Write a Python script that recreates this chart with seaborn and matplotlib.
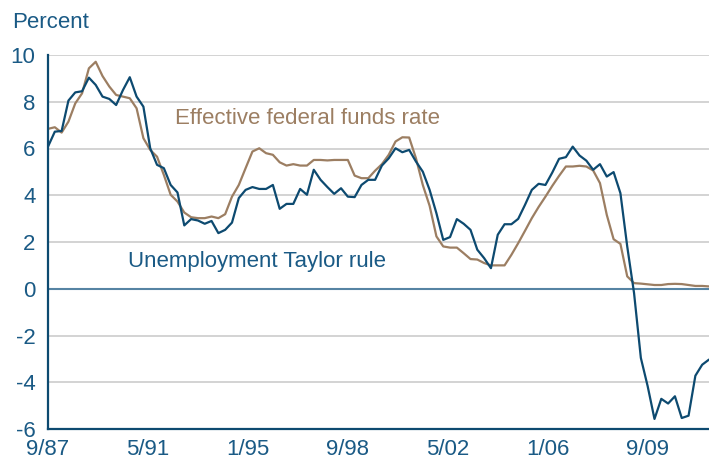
import numpy as np
import pandas as pd
import matplotlib
matplotlib.use("Agg")
import matplotlib.pyplot as plt
import seaborn as sns

# quarterly points starting 9/87 (x in months from 9/87)
taylor = [6.08, 6.72, 6.75, 8.05, 8.40, 8.45, 9.03, 8.72, 8.22, 8.12,
          7.86, 8.50, 9.05, 8.22, 7.79, 6.01, 5.30, 5.16, 4.44, 4.12,
          2.71, 2.98, 2.92, 2.78, 2.90, 2.38, 2.52, 2.83, 3.88, 4.23,
          4.35, 4.27, 4.27, 4.44, 3.42, 3.63, 3.63, 4.27, 4.02, 5.09,
          4.66, 4.35, 4.06, 4.30, 3.94, 3.92, 4.44, 4.66, 4.66, 5.27,
          5.58, 6.01, 5.84, 5.94, 5.44, 5.01, 4.23, 3.23, 2.09, 2.21,
          2.98, 2.78, 2.52, 1.67, 1.31, 0.88, 2.31, 2.76, 2.76, 2.99,
          3.59, 4.23, 4.49, 4.44, 4.97, 5.56, 5.63, 6.08, 5.70, 5.48,
          5.09, 5.33, 4.80, 4.99, 4.09, 1.81, -0.18, -2.96, -4.17, -5.57,
          -4.71, -4.91, -4.60, -5.53, -5.43, -3.72, -3.25, -3.03]
fedfunds = [6.84, 6.91, 6.68, 7.15, 7.93, 8.36, 9.43, 9.71, 9.10, 8.65,
            8.29, 8.22, 8.15, 7.72, 6.44, 5.94, 5.65, 4.87, 4.02, 3.73,
            3.26, 3.06, 3.02, 3.02, 3.09, 3.02, 3.19, 3.94, 4.44, 5.16,
            5.87, 6.01, 5.80, 5.73, 5.41, 5.27, 5.33, 5.27, 5.27, 5.51,
            5.51, 5.49, 5.51, 5.51, 5.51, 4.84, 4.73, 4.73, 5.05, 5.33,
            5.73, 6.30, 6.48, 6.47, 5.58, 4.44, 3.55, 2.24, 1.81, 1.76,
            1.76, 1.52, 1.27, 1.25, 1.10, 1.00, 1.00, 1.00, 1.45, 1.95,
            2.48, 3.02, 3.50, 3.94, 4.40, 4.83, 5.23, 5.23, 5.26, 5.23,
            5.06, 4.52, 3.16, 2.12, 1.92, 0.53, 0.24, 0.22, 0.19, 0.16,
            0.16, 0.20, 0.21, 0.20, 0.16, 0.12, 0.12, 0.10]
tick_labels = ["9/87", "5/91", "1/95", "9/98", "5/02", "1/06", "9/09"]

months = np.arange(len(taylor)) * 3
df = pd.DataFrame({"month": months, "taylor": taylor, "fedfunds": fedfunds})

sns.set_style("white")
plt.rcParams["font.family"] = ["Liberation Sans", "DejaVu Sans"]

blue = "#0d4a70"
txt_blue = "#1a5a85"
brown = "#9c7e62"
fs = 16

fig = plt.figure(figsize=(7.09, 4.62), dpi=100)
ax = fig.add_axes([48 / 709, 1 - 429 / 462, 1 - 48 / 709, (429 - 55) / 462])

for v in [10, 8, 6, 4, 2, -2, -4]:
    ax.axhline(v, color="#d0d0d0", lw=1.3, zorder=0)
ax.axhline(0, color="#5684a3", lw=1.5, zorder=1)

sns.lineplot(data=df, x="month", y="fedfunds", color=brown, lw=1.6, ax=ax)
sns.lineplot(data=df, x="month", y="taylor", color=blue, lw=1.6, ax=ax)

ax.set_xlim(0, 291)
ax.set_ylim(-6, 10)
ax.set_xlabel("")
ax.set_ylabel("")

ax.set_xticks(np.arange(len(tick_labels)) * 44)
ax.set_xticklabels(tick_labels)
ax.set_xticks(np.arange(22, 292, 44), minor=True)
ax.set_yticks(range(-6, 11, 2))
ax.set_yticklabels([str(v) for v in range(-6, 11, 2)])

ax.tick_params(axis="x", which="both", direction="in", length=5, width=1.3,
               color=blue, labelsize=fs, labelcolor=txt_blue, pad=7)
ax.tick_params(axis="y", length=0, labelsize=fs, labelcolor=txt_blue, pad=9)

for side in ["top", "right"]:
    ax.spines[side].set_visible(False)
for side in ["left", "bottom"]:
    ax.spines[side].set_color(blue)
    ax.spines[side].set_linewidth(1.6)

ax.text(55.9, 7.3, "Effective federal funds rate", color=brown,
        fontsize=fs, va="center", ha="left")
ax.text(35.2, 1.15, "Unemployment Taylor rule", color=txt_blue,
        fontsize=fs, va="center", ha="left")

fig.text(12 / 709, 1 - 22 / 462, "Percent", color=txt_blue, fontsize=fs,
         va="center", ha="left")

fig.savefig("out.png", dpi=100)
